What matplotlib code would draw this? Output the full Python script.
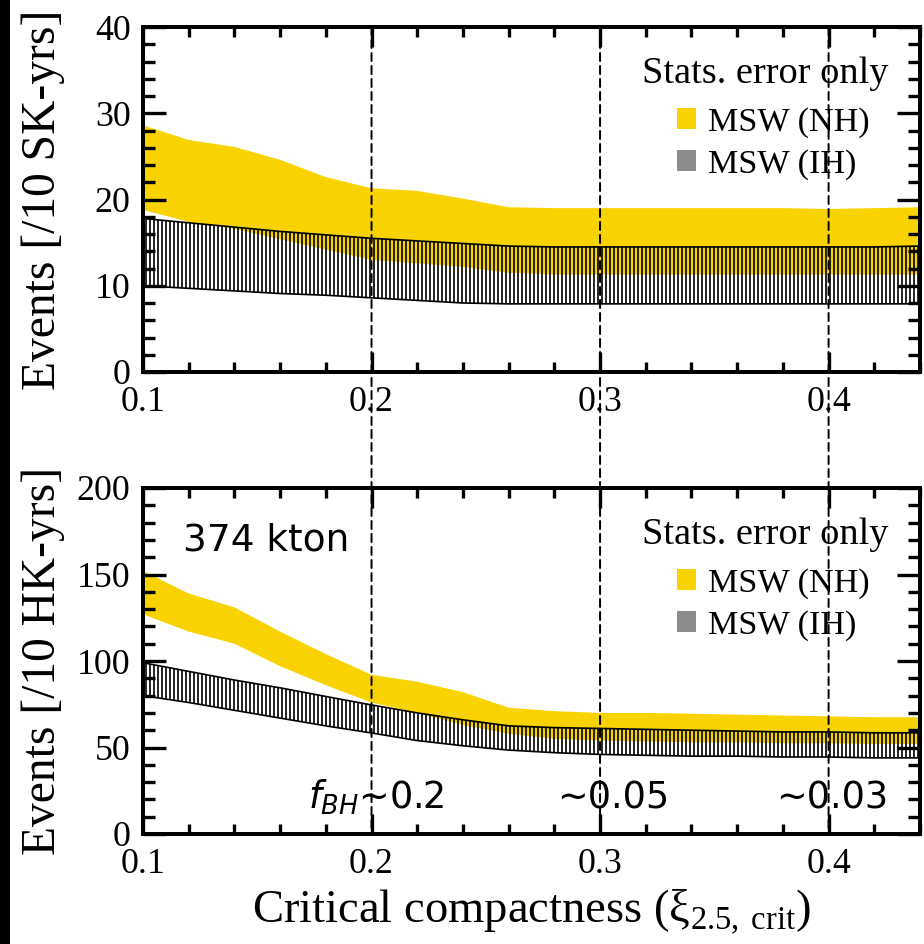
import matplotlib
matplotlib.use("Agg")
import matplotlib.pyplot as plt
from matplotlib.patches import Patch, Rectangle, ConnectionPatch
from matplotlib.ticker import MultipleLocator

plt.rcParams['font.family'] = ['Liberation Serif', 'DejaVu Sans']
plt.rcParams['mathtext.fontset'] = 'custom'
plt.rcParams['mathtext.rm'] = 'Liberation Serif'
plt.rcParams['mathtext.it'] = 'DejaVu Sans:italic'
plt.rcParams['mathtext.bf'] = 'Liberation Serif:bold'
plt.rcParams['hatch.linewidth'] = 1.0

# ---------------- data ----------------
xi_crit = [0.10, 0.12, 0.14, 0.16, 0.18, 0.20, 0.22, 0.24, 0.26,
           0.28, 0.30, 0.32, 0.34, 0.36, 0.38, 0.40, 0.42, 0.44]

# Super-K (events / 10 SK-yrs)
sk_nh_upper = [28.6, 26.9, 26.1, 24.6, 22.6, 21.3, 21.0, 20.1, 19.1,
               19.0, 19.0, 19.0, 19.0, 19.0, 19.0, 18.9, 19.0, 19.1]
sk_nh_lower = [18.8, 17.4, 16.6, 15.4, 14.2, 13.0, 12.6, 12.2, 11.5,
               11.3, 11.3, 11.3, 11.3, 11.3, 11.3, 11.3, 11.3, 11.3]
sk_ih_upper = [17.8, 17.3, 16.8, 16.3, 15.9, 15.5, 15.2, 14.9, 14.6,
               14.5, 14.5, 14.5, 14.5, 14.5, 14.5, 14.5, 14.5, 14.6]
sk_ih_lower = [10.0, 9.7, 9.4, 9.1, 8.9, 8.6, 8.3, 8.0, 7.9,
               7.9, 7.9, 7.9, 7.9, 7.9, 7.9, 7.9, 7.9, 7.9]

# Hyper-K (events / 10 HK-yrs)
hk_nh_upper = [152, 139, 131, 117, 104, 92, 88, 82, 73,
               71, 70, 70, 69.5, 69, 68.5, 68, 67.5, 67.5]
hk_nh_lower = [127, 117, 110, 97, 86, 76, 70, 63, 58,
               55, 54, 53.5, 53, 53, 52.5, 52.5, 52, 52]
hk_ih_upper = [99, 94, 89, 84.5, 79.5, 74.6, 70, 66, 62.5,
               61.5, 61, 60.5, 60, 59.5, 59, 59, 58.5, 58.5]
hk_ih_lower = [80, 76, 71.5, 67, 62.5, 58.4, 54, 51, 48.5,
               47, 46, 45.5, 45, 45, 44.5, 44.5, 44, 44]

x_ticks = [0.1, 0.2, 0.3, 0.4]
x_ticklabels = ["0.1", "0.2", "0.3", "0.4"]
fbh_positions = [0.2, 0.3, 0.4]
fbh_labels = ["$f_{BH}$\u223c0.2", "\u223c0.05", "\u223c0.03"]
fbh_text_x = [0.172, 0.281, 0.377]

legend_title = "Stats. error only"
label_nh = "MSW (NH)"
label_ih = "MSW (IH)"
x_label = "Critical compactness ($\\mathrm{ξ}_{\\mathrm{2.5,\\,crit}}$)"

YELLOW = "#F9D300"
GRAY = "#8C8C8C"

fig = plt.figure(figsize=(924 / 120, 944 / 120), dpi=120)
fig.patch.set_facecolor("white")
ax1 = fig.add_axes([143 / 924, 1 - 372 / 944, 777 / 924, 345 / 944])
ax2 = fig.add_axes([143 / 924, 1 - 834 / 944, 777 / 924, 346 / 944])

# black strip on the left edge
fig.add_artist(Rectangle((0, 0), 10 / 924, 1, transform=fig.transFigure,
                         facecolor="black", edgecolor="none", zorder=5))


def style_axis(ax, nh_lo, nh_hi, ih_lo, ih_hi, ymax, ymajor, yminor, ylabel):
    ax.fill_between(xi_crit, nh_lo, nh_hi,
                    facecolor=YELLOW, edgecolor="none", linewidth=0, zorder=1)
    ax.fill_between(xi_crit, ih_lo, ih_hi,
                    facecolor="none", edgecolor="black", hatch="|||||",
                    linewidth=1.0, zorder=2)
    ax.set_xlim(0.1, 0.44)
    ax.set_ylim(0, ymax)
    ax.set_xticks(x_ticks)
    ax.set_xticklabels(x_ticklabels)
    ax.xaxis.set_minor_locator(MultipleLocator(0.02))
    ax.yaxis.set_major_locator(MultipleLocator(ymajor))
    ax.yaxis.set_minor_locator(MultipleLocator(yminor))
    ax.tick_params(which="both", direction="in", top=True, right=True,
                   width=2.0, labelsize=21.5)
    ax.tick_params(axis="x", which="major", length=12, pad=8.5)
    ax.tick_params(axis="x", which="minor", length=6)
    ax.tick_params(axis="y", which="major", length=14, pad=7.5)
    ax.tick_params(axis="y", which="minor", length=7)
    for sp in ax.spines.values():
        sp.set_linewidth(2.4)
    ax.set_ylabel(ylabel, fontsize=28.5)
    ax.yaxis.set_label_coords(-0.101, 0.5)
    ax.text(0.959, 0.837, legend_title, transform=ax.transAxes,
            fontsize=23, ha="right", va="baseline", zorder=6)
    handles = [Patch(facecolor=YELLOW, edgecolor="none", label=label_nh),
               Patch(facecolor=GRAY, edgecolor="none", label=label_ih)]
    leg = ax.legend(handles=handles, loc="center left",
                    bbox_to_anchor=(0.687, 0.663), frameon=False,
                    fontsize=20.5, borderpad=0,
                    borderaxespad=0, handlelength=0.57, handleheight=0.57,
                    handletextpad=0.35, labelspacing=0.32)
    leg.set_zorder(6)


style_axis(ax1, sk_nh_lower, sk_nh_upper, sk_ih_lower, sk_ih_upper,
           40, 10, 2, "Events [/10 SK-yrs]")
style_axis(ax2, hk_nh_lower, hk_nh_upper, hk_ih_lower, hk_ih_upper,
           200, 50, 10, "Events [/10 HK-yrs]")

ax2.set_xlabel(x_label, fontsize=28, labelpad=4)

ax2.text(0.1175, 164, "374 kton", fontsize=22.5, family="DejaVu Sans",
         va="baseline", ha="left", zorder=7)
for xt, lab in zip(fbh_text_x, fbh_labels):
    ax2.text(xt, 14.5, lab, fontsize=22, family="DejaVu Sans",
             va="baseline", ha="left", zorder=7)

for xv in fbh_positions:
    con = ConnectionPatch(xyA=(xv, 40), coordsA=ax1.transData,
                          xyB=(xv, 0), coordsB=ax2.transData,
                          color="black", linewidth=1.2,
                          linestyle=(0, (4, 2.5)), zorder=8)
    fig.add_artist(con)

fig.savefig("out.png", dpi=120, facecolor="white")
